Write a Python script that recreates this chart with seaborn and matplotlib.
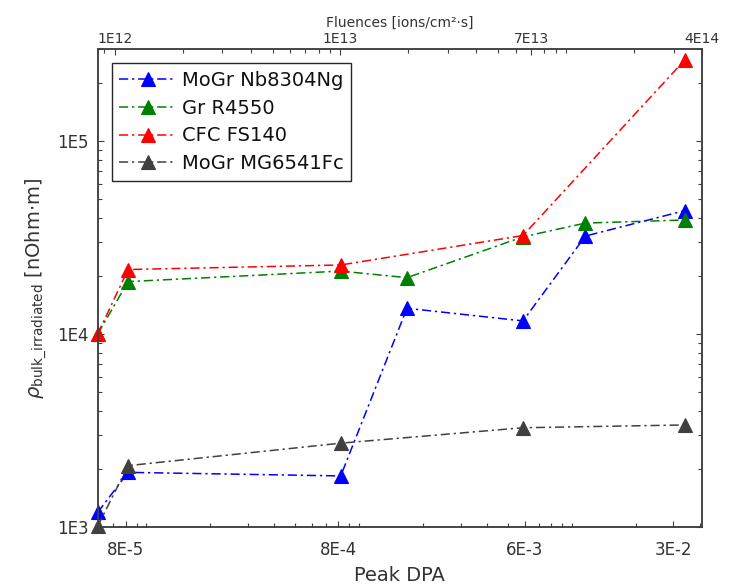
import matplotlib
matplotlib.use("Agg")
import matplotlib.pyplot as plt
import matplotlib.ticker as mticker
import numpy as np
import pandas as pd
import seaborn as sns

# Peak DPA of each irradiation step (bottom axis)
dpa_all = [5.9e-5, 8.2e-5, 8.2e-4, 1.68e-3, 5.9e-3, 1.16e-2, 3.4e-2]
dpa_five = [5.9e-5, 8.2e-5, 8.2e-4, 5.9e-3, 3.4e-2]

# bulk resistivity after irradiation [nOhm.m]
rho_mogr_nb = [1190, 1920, 1840, 13600, 11700, 32200, 43600]
rho_gr = [10000, 18700, 21200, 19600, 31900, 37600, 39000]
rho_cfc = [10000, 21600, 22800, 32400, 263000]
rho_mogr_mg = [1010, 2080, 2720, 3270, 3380]

series_names = ["MoGr Nb8304Ng", "Gr R4550", "CFC FS140", "MoGr MG6541Fc"]
series_colors = ["#0000ff", "#008000", "#ff0000", "#404040"]

dpa_ticks = [8e-5, 8e-4, 6e-3, 3e-2]
dpa_labels = ["8E-5", "8E-4", "6E-3", "3E-2"]
fluence_ticks = [1e12, 1e13, 7e13, 4e14]
fluence_labels = ["1E12", "1E13", "7E13", "4E14"]
rho_ticks = [1e3, 1e4, 1e5]
rho_labels = ["1E3", "1E4", "1E5"]

TXT = "#333333"
AXC = "#404040"

sns.set_style("ticks")
plt.rcParams["font.family"] = ["DejaVu Sans"]

df = pd.concat([
    pd.DataFrame({"dpa": dpa_all, "rho": rho_mogr_nb, "material": series_names[0]}),
    pd.DataFrame({"dpa": dpa_all, "rho": rho_gr, "material": series_names[1]}),
    pd.DataFrame({"dpa": dpa_five, "rho": rho_cfc, "material": series_names[2]}),
    pd.DataFrame({"dpa": dpa_five, "rho": rho_mogr_mg, "material": series_names[3]}),
], ignore_index=True)

fig = plt.figure(figsize=(7.45, 5.85), dpi=100)
ax = fig.add_axes([0.1311, 0.0991, 0.8112, 0.8171])
ax.set_xscale("log")
ax.set_yscale("log")

for name, color in zip(series_names, series_colors):
    sns.lineplot(
        data=df[df["material"] == name], x="dpa", y="rho", ax=ax,
        color=color, marker="^", markersize=10, markeredgecolor=color,
        markeredgewidth=0.8, linewidth=1.1, linestyle=(0, (6, 2.5, 1.5, 2.5)),
        label=name, sort=False, estimator=None, errorbar=None, clip_on=False,
    )

ax.set_xlim(5.9e-5, 4.1e-2)
ax.set_ylim(1e3, 3e5)

ax.xaxis.set_major_locator(mticker.FixedLocator(dpa_ticks))
ax.xaxis.set_major_formatter(mticker.FixedFormatter(dpa_labels))
ax.xaxis.set_minor_locator(mticker.LogLocator(base=10, subs=np.arange(1, 10), numticks=100))
ax.xaxis.set_minor_formatter(mticker.NullFormatter())
ax.yaxis.set_major_locator(mticker.FixedLocator(rho_ticks))
ax.yaxis.set_major_formatter(mticker.FixedFormatter(rho_labels))
ax.yaxis.set_minor_locator(mticker.LogLocator(base=10, subs=np.arange(2, 10), numticks=100))
ax.yaxis.set_minor_formatter(mticker.NullFormatter())

ax.tick_params(which="both", direction="in", color=AXC, width=0.8,
               labelcolor=TXT, top=False, right=True)
ax.tick_params(which="major", length=4.5)
ax.tick_params(which="minor", length=3)
ax.tick_params(axis="x", labelsize=12, pad=10)
ax.tick_params(axis="y", labelsize=12, pad=6.5)

ax.set_xlabel("Peak DPA", fontsize=14, color=TXT, labelpad=5)
ax.set_ylabel(r"$\rho_{\mathrm{bulk\_irradiated}}$ [nOhm$\cdot$m]",
              fontsize=14, color=TXT, labelpad=6)

for sp in ax.spines.values():
    sp.set_color(AXC)
    sp.set_linewidth(1.1)

# top axis: fluence
ax2 = ax.twiny()
ax2.set_xscale("log")
ax2.set_xlim(8.4e11, 4e14)
ax2.xaxis.set_major_locator(mticker.FixedLocator(fluence_ticks))
ax2.xaxis.set_major_formatter(mticker.FixedFormatter(fluence_labels))
ax2.xaxis.set_minor_locator(mticker.LogLocator(base=10, subs=np.arange(1, 10), numticks=100))
ax2.xaxis.set_minor_formatter(mticker.NullFormatter())
ax2.tick_params(which="both", direction="in", color=AXC, width=0.8,
                labelcolor=TXT, labelsize=10, pad=2)
ax2.tick_params(which="major", length=4.5)
ax2.tick_params(which="minor", length=3)
ax2.set_xlabel("Fluences [ions/cm²·s]", fontsize=10, color=TXT, labelpad=4)
for sp in ax2.spines.values():
    sp.set_color(AXC)
    sp.set_linewidth(1.1)

leg = ax.legend(loc="upper left", bbox_to_anchor=(0.0232, 0.9707), borderaxespad=0,
                fontsize=14, frameon=True, fancybox=False, framealpha=1,
                edgecolor="#262626", handlelength=2.9, labelspacing=0.45,
                borderpad=0.4, handletextpad=0.3)
leg.get_frame().set_linewidth(1.0)
for t in leg.get_texts():
    t.set_color("#111111")

fig.savefig("out.png", dpi=100)
